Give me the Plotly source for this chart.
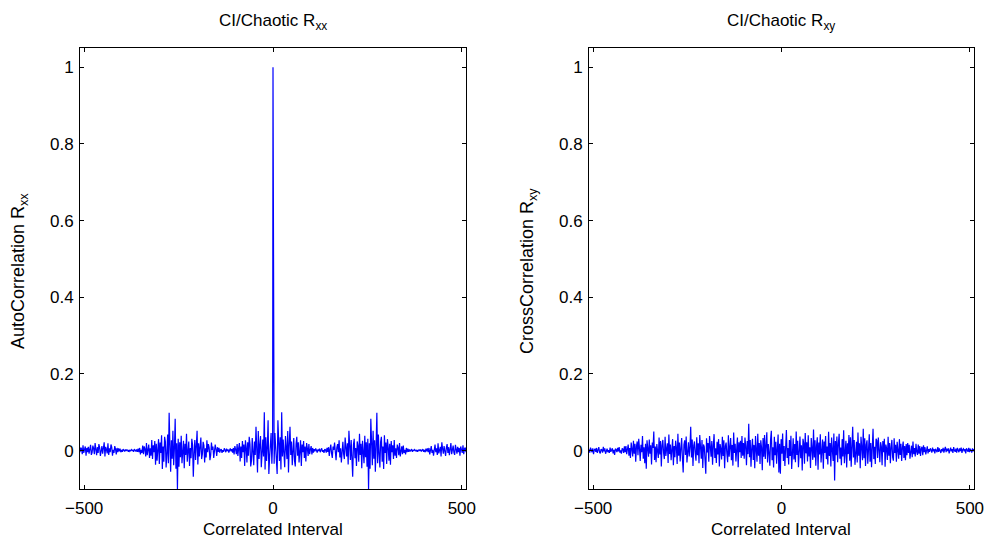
import plotly.graph_objects as go

# ---------------- data ----------------
# Auto-correlation R_xx at positive odd lags 1,3,...,511 (R_xx is even in the lag)
rxx_half = [
    0.021, -0.034, 0.046, 0.012, -0.018, -0.061, 0.079, 0.008, -0.027, 0.035, -0.049, 0.100, -0.015,
    0.029, -0.006, -0.043, 0.038, 0.014, -0.022, 0.051, -0.057, 0.019, 0.062, -0.011, 0.024, -0.038,
    0.005, 0.033, -0.026, -0.041, 0.017,
    0.036, -0.013, 0.022, -0.031, 0.009, 0.027, -0.040, 0.016, -0.004, 0.025, -0.019, 0.011, -0.028,
    0.020, 0.006, -0.014, 0.017, -0.009, 0.003, 0.012, -0.010, 0.007, -0.005,
    0.004, -0.002, 0.006, 0.001, -0.005, 0.003, -0.001, 0.005, -0.004, 0.002, 0.006, -0.003, 0.001,
    -0.006, 0.004, 0.002, -0.005, 0.007, -0.003,
    0.009, -0.014, 0.004, 0.016, -0.007, -0.019, 0.011, 0.002, 0.021, -0.012,
    -0.025, 0.008, 0.017, -0.004, 0.027, -0.018, 0.006, -0.031, 0.014, 0.023,
    -0.009, -0.022, 0.034, 0.003, -0.015, 0.019, -0.036, 0.052, 0.010, -0.024,
    0.028, -0.006, -0.068, 0.015, 0.031, -0.020, 0.007, -0.040, 0.024, 0.012,
    -0.029, 0.044, -0.011, 0.018, -0.046, 0.026, 0.005, -0.033, 0.039, -0.017,
    0.022, -0.042,
    0.031, -0.100, 0.019, -0.047, 0.083, 0.006, -0.038, 0.052, -0.021, 0.027, -0.055, 0.014, 0.099,
    -0.033, 0.042, -0.008,
    -0.044, 0.024, 0.036, -0.029, 0.011, -0.048, 0.040, -0.006, 0.021, -0.035,
    0.030, 0.009, -0.026, 0.018, -0.037, 0.025, -0.004, 0.014, -0.022, 0.028,
    -0.013, 0.006, -0.019, 0.016, 0.008, -0.012, 0.020, -0.015, 0.004, 0.011,
    -0.009, 0.013, -0.006, 0.002, -0.010, 0.007, -0.004, 0.005, -0.003,
    0.003, -0.002, 0.001, 0.004, -0.003, 0.002, -0.001, 0.003, 0.001, -0.002, 0.002, -0.003, 0.001,
    0.002, -0.001, 0.003, -0.002, 0.001, 0.004, -0.003, 0.002, -0.004, 0.005, -0.002, 0.006, -0.004,
    0.007, -0.010, 0.004, 0.012, -0.006, 0.002, -0.013, 0.009, 0.016, -0.004,
    0.006, -0.011, 0.019, -0.007, 0.003, 0.010, -0.015, 0.022, 0.005, -0.008,
    0.012, -0.003, -0.014, 0.008, 0.017, -0.006, 0.009, -0.012, 0.004, 0.020,
    -0.009, 0.006, 0.013, -0.005, -0.011, 0.015, 0.002, -0.008, 0.010, -0.004,
    0.007, -0.013, 0.011, 0.003, -0.006, 0.014, -0.009, 0.005, 0.008, -0.004,
]
rxx_peak = 1.0

# Cross-correlation R_xy at lags -511,-509,...,511, in segments from left to right
rxy_a = [0.003, -0.005, 0.008, 0.001, -0.004, 0.006, -0.009, 0.002, 0.005, -0.003,
         0.007, -0.006, 0.001, 0.009, -0.004, -0.007, 0.004, 0.002, -0.005, 0.010,
         -0.002, 0.006, -0.008, 0.003, 0.005, -0.004, 0.001, -0.006, 0.008, -0.003,
         0.004, 0.006, -0.007, 0.002, -0.011, 0.005, 0.003, -0.004, 0.007, -0.002,
         0.009, -0.005, 0.001, -0.008, 0.006, 0.004, -0.006, 0.011]
rxy_b = [-0.004, 0.012, -0.009, 0.003, 0.016, -0.013, 0.007, -0.019, 0.021, 0.004,
         -0.015, 0.026, -0.008, 0.018, -0.029, 0.011]
rxy_c = [0.024, -0.012, 0.031, 0.006, -0.027, 0.015, -0.004, 0.038, -0.021, 0.009,
         -0.033, 0.018, -0.047, 0.027, 0.003, -0.016, 0.029, -0.008, 0.014, -0.036,
         0.021, 0.007, 0.050, -0.024, 0.011, -0.030, 0.017, 0.002, -0.019, 0.034,
         -0.010, 0.025, -0.041, 0.013, 0.028, -0.006, -0.022, 0.036, -0.014, 0.005,
         0.019, -0.032, 0.042, -0.009, 0.016, -0.025, 0.003, 0.030, -0.038, 0.012,
         -0.017, 0.026, 0.008, -0.035, 0.044, -0.013, 0.021, -0.028, 0.006, 0.033,
         -0.020, -0.057, 0.015, 0.027, -0.011, 0.037, -0.031, 0.004, 0.022, -0.015,
         0.009, 0.062, -0.018, 0.029, -0.040, 0.013, 0.024, -0.007, -0.026, 0.035,
         -0.012, 0.019, -0.033, 0.041, 0.005, -0.021, 0.028, -0.045, 0.016, 0.010,
         -0.024, -0.060, 0.032, -0.005, 0.020, -0.029, 0.038, 0.011, -0.016, 0.025,
         -0.037, 0.014, 0.043, -0.019, 0.006, -0.032, 0.023, -0.010, 0.030, -0.041,
         0.017, 0.004, -0.023, 0.036, -0.014, 0.027, -0.046, 0.012, 0.021, -0.008,
         -0.030, 0.040, -0.016, 0.009, 0.033, -0.025, 0.015, -0.039, 0.047, -0.006,
         0.018, -0.028, 0.011, 0.034, -0.043, 0.022, -0.004, 0.026, -0.019, 0.038,
         -0.013, 0.020]
rxy_d = [-0.021, 0.034, 0.012, -0.038, 0.025, -0.009, 0.070, -0.017, 0.028, -0.042,
         0.006, 0.031, -0.024, 0.015, -0.046, 0.038, 0.003, -0.029, 0.044, -0.013,
         0.020, -0.035, 0.027, 0.008, -0.051, 0.033, -0.016, 0.041, -0.022, 0.011,
         0.048, -0.031, 0.017, -0.006, -0.039, 0.029, 0.052, -0.025, 0.009, -0.044,
         0.036, -0.012, 0.023, -0.034, 0.015, 0.042, -0.057, 0.018, -0.060, 0.030,
         -0.008, 0.045, -0.027, 0.012, -0.040, 0.024, 0.054, -0.019, 0.007, -0.036,
         0.028, -0.014, 0.039, -0.048, 0.010, 0.032, -0.023, 0.017, -0.030, 0.050,
         -0.011, 0.026, -0.043, 0.005, 0.037, -0.020, 0.014, -0.052, 0.031, 0.019,
         -0.034, 0.046, -0.007, 0.022, -0.028, 0.040, -0.015, 0.009, -0.045, 0.033,
         0.004, -0.024, 0.055, -0.018, 0.027, -0.039, 0.013, 0.035, -0.050, 0.021,
         -0.010, 0.043, -0.031, 0.016, 0.029, -0.047, 0.024, -0.006, 0.038, -0.022,
         0.011, -0.036, 0.049, -0.014, 0.020, -0.041, 0.034, 0.002, -0.027, 0.045,
         -0.078, 0.025, -0.012, 0.037, -0.030, 0.018, 0.044, -0.021, 0.008, -0.038,
         0.030, -0.015, 0.053, -0.033, 0.012, 0.026, -0.044, 0.019, -0.009, 0.041,
         -0.026, 0.035, -0.042, 0.014, 0.062, -0.018, 0.028, -0.037, 0.006, 0.023,
         -0.031, 0.047, -0.013, 0.019, -0.046, 0.036, 0.009, -0.025, 0.057, -0.020,
         0.032, -0.040, 0.015, 0.027, -0.034, 0.011, 0.043, -0.029, 0.020, -0.043,
         0.024, 0.057, -0.022, 0.010, -0.035, 0.031]
rxy_e = [0.027, -0.019, 0.034, -0.008, -0.030, 0.022, 0.011, -0.038, 0.025, -0.004,
         0.031, -0.042, 0.016, 0.006, -0.024, 0.036, -0.013, 0.020, -0.033, 0.009,
         0.028, -0.017, -0.026, 0.032, -0.006, 0.015, -0.029, 0.023, 0.004, -0.021,
         0.030, -0.011, 0.018, -0.027, 0.008, 0.024, -0.019, 0.012, -0.025, 0.017]
rxy_f = [-0.012, 0.020, -0.006, 0.015, -0.021, 0.004, 0.013, -0.017, 0.024, -0.009,
         0.007, -0.015, 0.018, -0.003, -0.011, 0.016, -0.008, 0.012, -0.014, 0.005,
         0.010, -0.012, 0.014, -0.004, 0.009, -0.010, 0.006, 0.011, -0.007, 0.004]
rxy_g = [-0.003, 0.006, 0.002, -0.005, 0.008, -0.002, 0.004, -0.007, 0.005, 0.001,
         -0.004, 0.009, -0.003, 0.006, 0.002, -0.006, 0.004, -0.002, 0.007, -0.005,
         0.003, 0.010, -0.004, 0.005, -0.001, 0.006, -0.007, 0.003, 0.008, -0.002,
         0.004, -0.006, 0.009, 0.001, -0.003, 0.005, -0.005, 0.007, 0.002, -0.004,
         0.006, -0.001, 0.008, -0.006, 0.003, 0.005, -0.002, 0.004, -0.007, 0.006,
         0.002, -0.003, 0.007, -0.004, 0.005, 0.001, -0.005, 0.006, -0.002, 0.004]

x_ticks = [-500, 0, 500]
y_ticks = [0, 0.2, 0.4, 0.6, 0.8, 1]
y_tick_text = ["0", "0.2", "0.4", "0.6", "0.8", "1"]

# ---------------- assemble series ----------------
half_lags = list(range(1, 2 * len(rxx_half), 2))
rxx_x = [-l for l in reversed(half_lags)] + [0] + half_lags
rxx_y = list(reversed(rxx_half)) + [rxx_peak] + rxx_half

rxy_y = rxy_a + rxy_b + rxy_c + rxy_d + rxy_e + rxy_f + rxy_g
rxy_x = list(range(-511, -511 + 2 * len(rxy_y), 2))

# ---------------- figure ----------------
W, H = 988, 542
FONT = "Liberation Sans, Arial, Helvetica, sans-serif"
BLUE = "#0000ff"
FS = 17

fig = go.Figure()
fig.add_trace(go.Scatter(x=rxx_x, y=rxx_y, mode="lines",
                         line=dict(color=BLUE, width=1.2), xaxis="x", yaxis="y"))
fig.add_trace(go.Scatter(x=rxy_x, y=rxy_y, mode="lines",
                         line=dict(color=BLUE, width=1.2), xaxis="x2", yaxis="y2"))

def px_x(p):
    return p / W

def px_y(p):
    return 1 - p / H

ax_common = dict(showgrid=False, zeroline=False, showline=True, linecolor="black",
                 linewidth=1, mirror="ticks", ticks="inside", ticklen=4,
                 tickcolor="black", automargin=False,
                 tickfont=dict(family=FONT, size=FS, color="black"))

xdom1 = [px_x(80), px_x(466)]
xdom2 = [px_x(589), px_x(974)]
ydom = [px_y(489), px_y(48)]

fig.update_layout(
    width=W, height=H,
    margin=dict(l=0, r=0, t=0, b=0),
    paper_bgcolor="white", plot_bgcolor="white",
    showlegend=False,
    hovermode=False,
    xaxis=dict(domain=xdom1, range=[-511, 511], tickvals=x_ticks, anchor="y",
               ticklabelstandoff=4, **ax_common),
    yaxis=dict(domain=ydom, range=[-0.1, 1.05], tickvals=y_ticks, ticktext=y_tick_text,
               anchor="x", ticklabelstandoff=2, **ax_common),
    xaxis2=dict(domain=xdom2, range=[-511, 511], tickvals=x_ticks, anchor="y2",
                ticklabelstandoff=4, **ax_common),
    yaxis2=dict(domain=ydom, range=[-0.1, 1.05], tickvals=y_ticks, ticktext=y_tick_text,
                anchor="x2", ticklabelstandoff=2, **ax_common),
)

tf = dict(family=FONT, size=FS, color="black")
tf_y = dict(family=FONT, size=18, color="black")
ann = []
for cx, sub in [(273, "xx"), (781, "xy")]:
    ann.append(dict(x=px_x(cx), y=px_y(22), xref="paper", yref="paper",
                    text=f"CI/Chaotic R<sub>{sub}</sub>", showarrow=False,
                    font=tf, xanchor="center", yanchor="middle"))
    ann.append(dict(x=px_x(cx), y=px_y(529), xref="paper", yref="paper",
                    text="Correlated Interval", showarrow=False,
                    font=tf, xanchor="center", yanchor="middle"))
ann.append(dict(x=px_x(19), y=px_y(271), xref="paper", yref="paper",
                text="AutoCorrelation R<sub>xx</sub>", textangle=-90, showarrow=False,
                font=tf_y, xanchor="center", yanchor="middle"))
ann.append(dict(x=px_x(528), y=px_y(271), xref="paper", yref="paper",
                text="CrossCorrelation R<sub>xy</sub>", textangle=-90, showarrow=False,
                font=tf_y, xanchor="center", yanchor="middle"))
fig.update_layout(annotations=ann)

# remove the default page margin so the figure fills the 988x542 window exactly
fig.write_html("out.html",
               config={"displayModeBar": False, "staticPlot": True},
               post_script="document.body.style.margin='0';document.body.style.overflow='hidden';")
